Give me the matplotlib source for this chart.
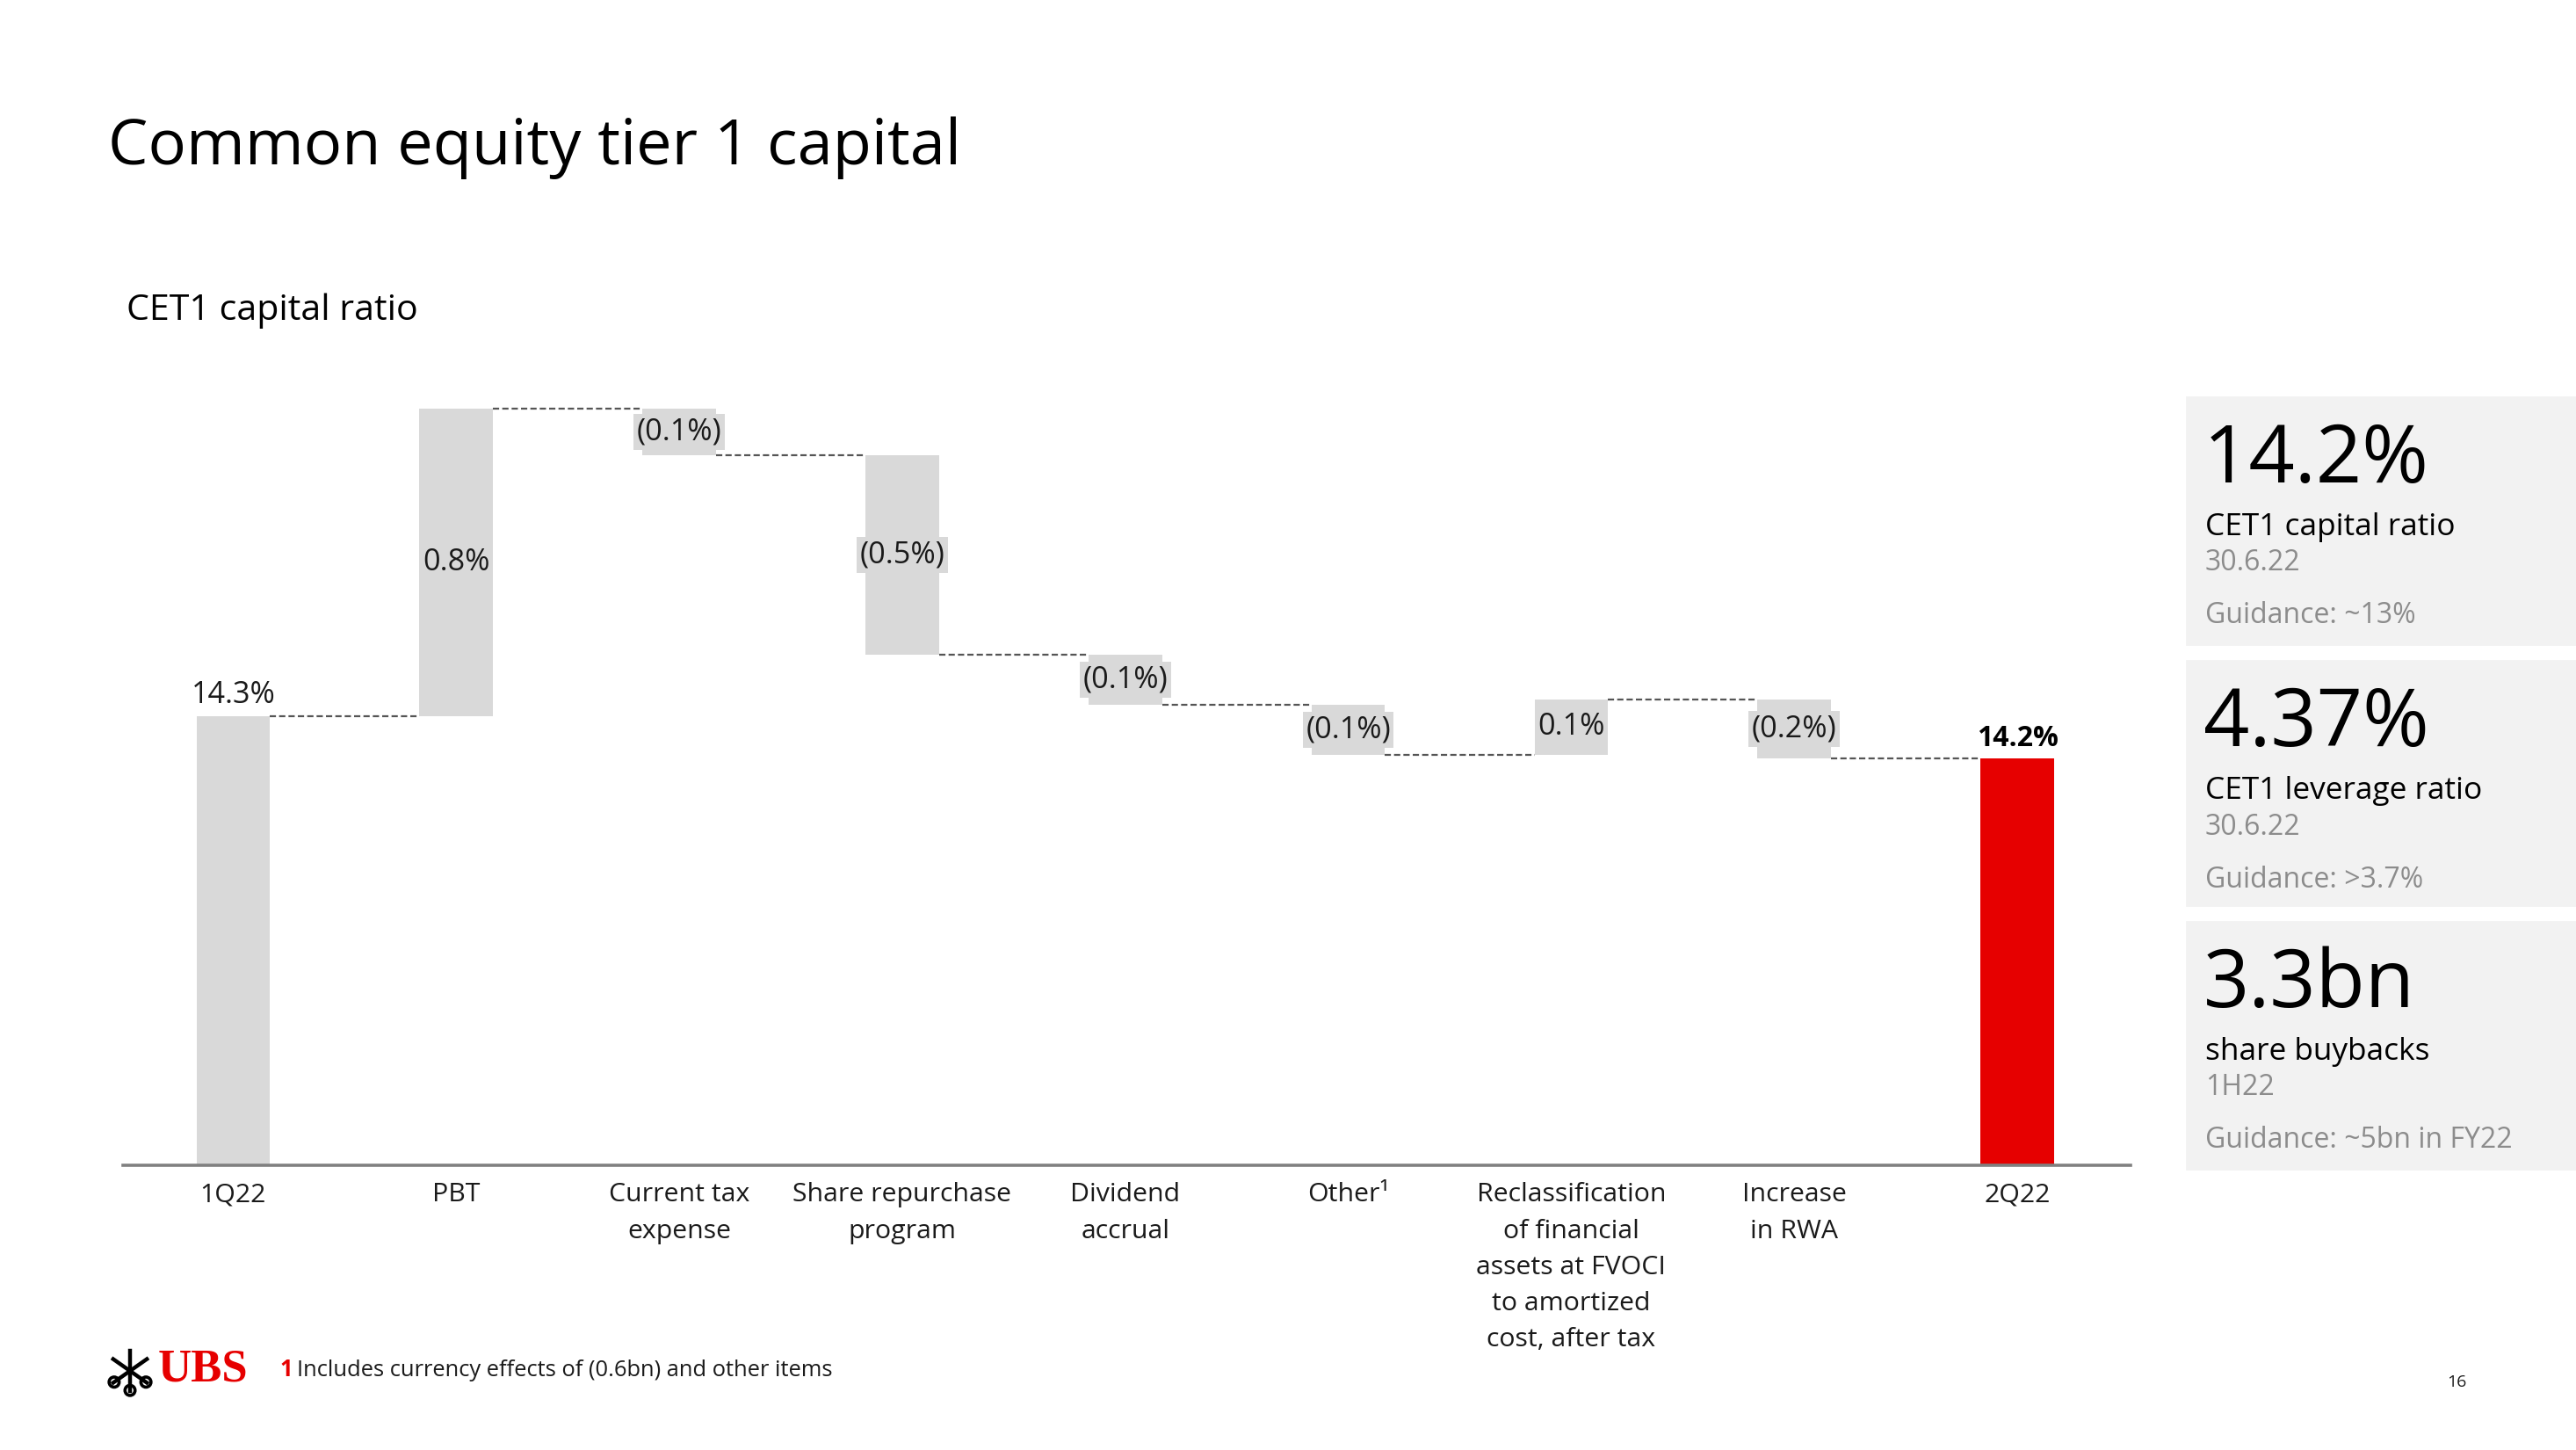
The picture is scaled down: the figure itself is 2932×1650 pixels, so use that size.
#!/usr/bin/env python3
"""
CET1 capital ratio waterfall (1Q22 -> 2Q22) with KPI side panel.
"""

import numpy as np
import matplotlib
matplotlib.use('Agg')  # no display in the sandbox
import matplotlib.pyplot as plt
from matplotlib.patches import Rectangle, Circle

# ---- data -------------------------------------------------------------
categories = ['1Q22', 'PBT', 'Current tax\nexpense', 'Share repurchase\nprogram',
              'Dividend\naccrual', 'Other\u00b9',
              'Reclassification\nof financial\nassets at FVOCI\nto amortized\ncost, after tax',
              'Increase\nin RWA', '2Q22']
start_value = 14.30
deltas = [0.80, -0.12, -0.52, -0.13, -0.13, 0.145, -0.155]
value_labels = ['14.3%', '0.8%', '(0.1%)', '(0.5%)', '(0.1%)', '(0.1%)',
                '0.1%', '(0.2%)', '14.2%']

kpi_values = ['14.2%', '4.37%', '3.3bn']
kpi_captions = ['CET1 capital ratio', 'CET1 leverage ratio', 'share buybacks']
kpi_periods = ['30.6.22', '30.6.22', '1H22']
kpi_guidance = ['Guidance: ~13%', 'Guidance: >3.7%', 'Guidance: ~5bn in FY22']

# ---- style --------------------------------------------------------------
W, H = 2932, 1650
GREY_BAR = '#d9d9d9'
RED = '#e60000'
TXT = '#1a1a1a'
MUTED = '#8c8c8c'
plt.rcParams['font.family'] = ['Open Sans', 'DejaVu Sans']

axis_floor = 13.133   # the value axis is cut, bars start here
bar_width = 0.33


def fx(px):
    return px / W


def fy(py):
    return 1 - py / H


fig = plt.figure(figsize=(W / 200, H / 200), dpi=200)
fig.patch.set_facecolor('white')

# Title / subtitle
fig.text(fx(123), fy(168), 'Common equity tier 1 capital', fontsize=26,
         color='black', ha='left', va='center')
fig.text(fx(144), fy(354), 'CET1 capital ratio', fontsize=14.8,
         color='black', ha='left', va='center')

# ---- waterfall --------------------------------------------------------
ax = fig.add_axes([fx(140), fy(1326), fx(2425) - fx(140), fy(400) - fy(1326)])
levels = np.concatenate([[start_value], start_value + np.cumsum(deltas)])
end_value = levels[-1]
x = np.arange(len(categories))

# totals
ax.bar(x[0], start_value - axis_floor, bottom=axis_floor, width=bar_width,
       color=GREY_BAR, zorder=2)
ax.bar(x[-1], end_value - axis_floor, bottom=axis_floor, width=bar_width,
       color=RED, zorder=2)

# steps
for i, d in enumerate(deltas, start=1):
    lo = min(levels[i - 1], levels[i])
    ax.text(x[i], lo + abs(d) / 2, value_labels[i], ha='center', va='center',
            fontsize=12.3, color=TXT, zorder=4,
            bbox=dict(boxstyle='square,pad=0.1', fc=GREY_BAR, ec='none'))
    ax.bar(x[i], abs(d), bottom=lo, width=bar_width, color=GREY_BAR, zorder=2)

# connectors
for i in range(len(categories) - 1):
    ax.hlines(levels[i], x[i] + bar_width / 2, x[i + 1] - bar_width / 2,
              colors='#555555', linestyles=(0, (3.2, 1.6)), linewidth=0.8, zorder=1)

# total labels
ax.annotate(value_labels[0], (x[0], start_value), xytext=(0, 2.5),
            textcoords='offset points', ha='center', va='bottom',
            fontsize=12.3, color=TXT)
ax.annotate(value_labels[-1], (x[-1], end_value), xytext=(0, 2.5),
            textcoords='offset points', ha='center', va='bottom',
            fontsize=11.5, color='black', fontweight='bold')

ax.set_xlim(-0.494, 8.508)
ax.set_ylim(axis_floor, axis_floor + (1326 - 400) / 437.6)
ax.set_xticks(x)
ax.set_xticklabels(categories, fontsize=10.9, color=TXT, linespacing=1.55)
ax.tick_params(axis='x', length=0, pad=7)
ax.set_yticks([])
for side in ['top', 'right', 'left']:
    ax.spines[side].set_visible(False)
ax.spines['bottom'].set_color('#808080')
ax.spines['bottom'].set_linewidth(1.3)
ax.set_facecolor('none')

# ---- KPI panel --------------------------------------------------------
box_tops = [452, 752, 1049]
box_heights = [281, 278, 281]
for k in range(3):
    top = box_tops[k]
    fig.patches.append(Rectangle((fx(2489), fy(top + box_heights[k])),
                                 fx(W) - fx(2489), box_heights[k] / H,
                                 transform=fig.transFigure, color='#f2f2f2', zorder=0))
    fig.text(fx(2508), fy(top + 73), kpi_values[k], fontsize=33, color='black',
             ha='left', va='center')
    fig.text(fx(2510), fy(top + 148), kpi_captions[k], fontsize=12.7, color='black',
             ha='left', va='center')
    fig.text(fx(2510), fy(top + 189), kpi_periods[k], fontsize=11.5, color=MUTED,
             ha='left', va='center')
    fig.text(fx(2510), fy(top + 249), kpi_guidance[k], fontsize=11.5, color=MUTED,
             ha='left', va='center')

# ---- footer -----------------------------------------------------------
# rough version of the keys emblem
lg = fig.add_axes([fx(122), fy(1590), fx(174) - fx(122), fy(1530) - fy(1590)])
lg.set_xlim(-1, 1)
lg.set_ylim(-1.15, 1.15)
lg.axis('off')
for ang in [90, 35, 145]:
    t = np.deg2rad(ang)
    lg.plot([-0.9 * np.cos(t), 0.9 * np.cos(t)], [-0.9 * np.sin(t), 0.9 * np.sin(t)],
            color='black', lw=1.6)
    lg.add_patch(Circle((-0.85 * np.cos(t), -0.85 * np.sin(t)), 0.22,
                        fc='white', ec='black', lw=1.3))

fig.text(fx(180), fy(1558), 'UBS', fontsize=19, color=RED, fontweight='bold',
         family='Liberation Serif', ha='left', va='center')
fig.text(fx(318), fy(1559), '1', fontsize=9.2, color=RED, fontweight='bold',
         ha='left', va='center')
fig.text(fx(338), fy(1559), 'Includes currency effects of (0.6bn) and other items',
         fontsize=9.2, color=TXT, ha='left', va='center')
fig.text(fx(2796), fy(1573), '16', fontsize=7, color=TXT, ha='center', va='center')

fig.savefig('out.png', dpi=200, facecolor='white')
plt.close(fig)
